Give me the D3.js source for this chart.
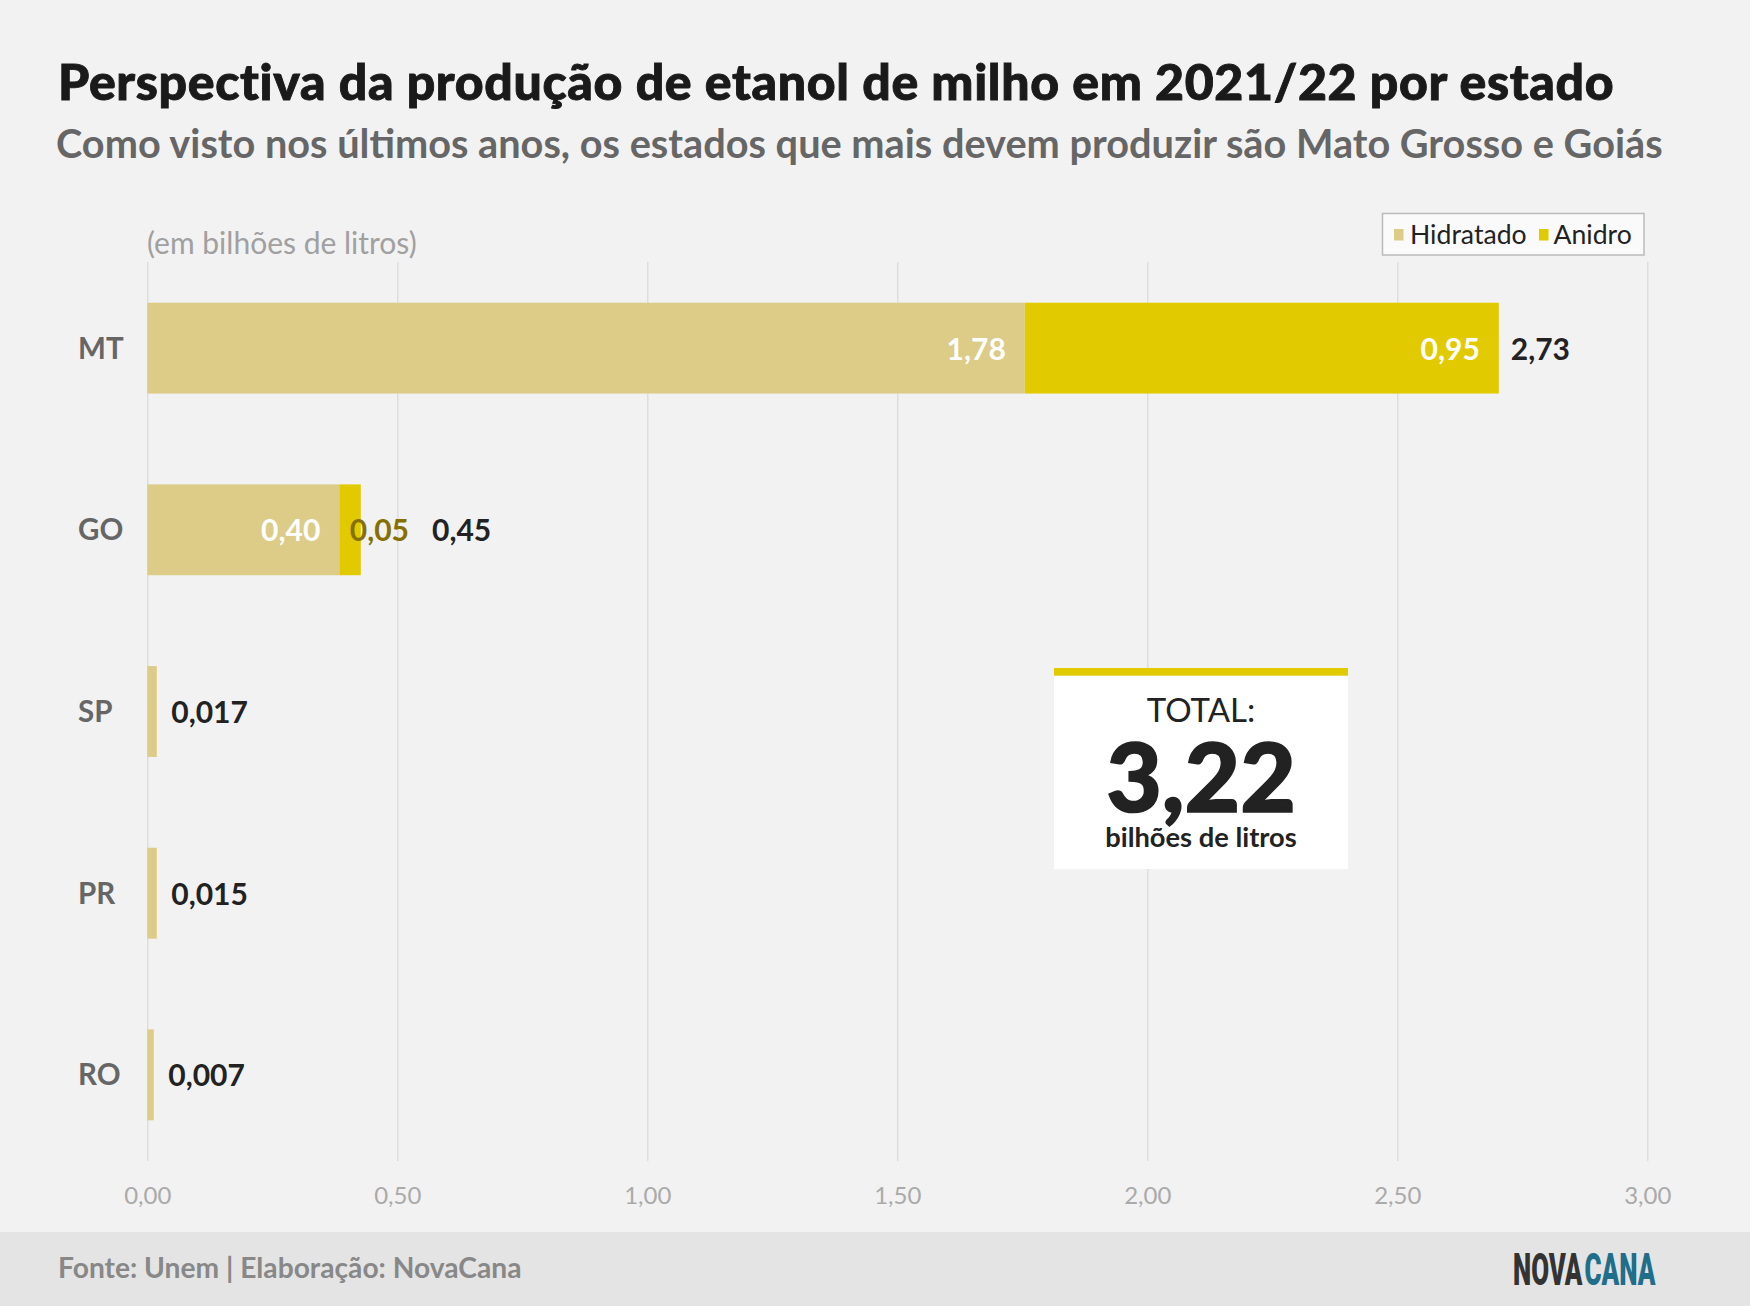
<!DOCTYPE html>
<html>
<head>
<meta charset="utf-8">
<script src="https://cdn.jsdelivr.net/npm/d3@7"></script>
<style>
  html, body { margin: 0; padding: 0; background: #f2f2f2; }
  svg { display: block; font-family: Lato, "Open Sans", sans-serif; }
</style>
</head>
<body>
<svg id="chart" width="1750" height="1306"></svg>
<script>
// ---- data ----
const states = ["MT", "GO", "SP", "PR", "RO"];
const hidratado = [1.755, 0.384, 0.019, 0.019, 0.013];   // bar lengths (bilhões de litros)
const anidro = [0.948, 0.043, 0, 0, 0];
const hidratadoLabels = [1.78, 0.40, null, null, null];
const anidroLabels = [0.95, 0.05, null, null, null];
const totalLabels = [2.73, 0.45, 0.017, 0.015, 0.007];
const xTicks = [0, 0.5, 1, 1.5, 2, 2.5, 3];
const seriesNames = ["Hidratado", "Anidro"];
const seriesColors = ["#dccc88", "#e2ca00"];

const title = "Perspectiva da produção de etanol de milho em 2021/22 por estado";
const subtitle = "Como visto nos últimos anos, os estados que mais devem produzir são Mato Grosso e Goiás";
const unitLabel = "(em bilhões de litros)";
const source = "Fonte: Unem | Elaboração: NovaCana";

// ---- setup ----
const locale = d3.formatLocale({decimal: ",", thousands: ".", grouping: [3], currency: ["R$", ""]});
const f2 = locale.format(".2f");
const f3 = locale.format(".3f");
const fmt = v => (v < 0.1 ? f3(v) : f2(v));

const svg = d3.select("#chart");
const W = 1750, H = 1306;

svg.append("rect").attr("width", W).attr("height", H).attr("fill", "#f2f2f2");
svg.append("rect").attr("x", 0).attr("y", 1232).attr("width", W).attr("height", H - 1232).attr("fill", "#e4e4e4");

const x = d3.scaleLinear().domain([0, 3]).range([147.3, 1647.3]);
const y = d3.scaleBand().domain(states).range([262, 1161]).paddingInner(0.5).paddingOuter(0.224);

// ---- titles ----
svg.append("text").attr("x", 58).attr("y", 100)
  .attr("font-size", 50).attr("font-weight", 900).attr("fill", "#1a1a1a")
  .attr("stroke", "#1a1a1a").attr("stroke-width", 0.9).attr("letter-spacing", 0.65)
  .text(title);
svg.append("text").attr("x", 56).attr("y", 158)
  .attr("font-size", 39.7).attr("font-weight", 700).attr("fill", "#666")
  .text(subtitle);
svg.append("text").attr("x", 147).attr("y", 254)
  .attr("font-size", 30).attr("font-weight", 400).attr("fill", "#a0a0a0")
  .text(unitLabel);

// ---- grid / axis ----
const axis = d3.axisBottom(x).tickValues(xTicks).tickFormat(f2)
  .tickSize(-(1161 - 262)).tickPadding(26);
const gAxis = svg.append("g").attr("transform", "translate(0,1161)").call(axis);
gAxis.select(".domain").remove();
gAxis.selectAll(".tick line").attr("stroke", "#d9d9d9").attr("stroke-width", 1.2);
gAxis.selectAll(".tick text").attr("fill", "#aaa").attr("font-size", 24)
  .attr("font-family", "Lato, sans-serif");

// ---- bars ----
const rows = states.map((s, i) => ({
  s, h: hidratado[i], a: anidro[i],
  hl: hidratadoLabels[i], al: anidroLabels[i], t: totalLabels[i]
}));

const g = svg.append("g");
g.selectAll("rect.h").data(rows).join("rect")
  .attr("x", x(0)).attr("y", d => y(d.s))
  .attr("width", d => x(d.h) - x(0)).attr("height", y.bandwidth())
  .attr("fill", seriesColors[0]);
g.selectAll("rect.a").data(rows.filter(d => d.a > 0)).join("rect")
  .attr("x", d => x(d.h)).attr("y", d => y(d.s))
  .attr("width", d => x(d.h + d.a) - x(d.h)).attr("height", y.bandwidth())
  .attr("fill", seriesColors[1]);

// row labels
svg.selectAll("text.state").data(states).join("text")
  .attr("x", 78).attr("y", d => y(d) + y.bandwidth() / 2 + 10.5)
  .attr("font-size", 29.5).attr("font-weight", 700).attr("fill", "#666")
  .text(d => d);

// value labels
const vfs = 30;
rows.forEach(d => {
  const cy = y(d.s) + y.bandwidth() / 2 + 11.5;
  let endX = x(d.h + d.a) + (d.a > 0 ? 12 : 14.5);
  if (d.hl != null) {
    svg.append("text").attr("x", x(d.h) - 19).attr("y", cy)
      .attr("text-anchor", "end").attr("font-size", vfs).attr("font-weight", 700)
      .attr("fill", "#fff").text(f2(d.hl));
  }
  if (d.al != null) {
    const barW = x(d.h + d.a) - x(d.h);
    if (barW > 100) {
      svg.append("text").attr("x", x(d.h + d.a) - 19).attr("y", cy)
        .attr("text-anchor", "end").attr("font-size", vfs).attr("font-weight", 700)
        .attr("fill", "#fff").text(f2(d.al));
    } else {
      const t = svg.append("text").attr("x", x(d.h) + 10.5).attr("y", cy)
        .attr("font-size", vfs).attr("font-weight", 700)
        .attr("fill", "#857000").text(f2(d.al));
      endX = x(d.h) + 10.5 + t.node().getComputedTextLength() + 23;
    }
  }
  svg.append("text").attr("x", endX).attr("y", cy)
    .attr("font-size", vfs).attr("font-weight", 700).attr("fill", "#222")
    .text(fmt(d.t));
});

// ---- legend ----
const lg = svg.append("g");
lg.append("rect").attr("x", 1382.5).attr("y", 213.5).attr("width", 261.5).attr("height", 41.5)
  .attr("fill", "#fafafa").attr("stroke", "#bbb").attr("stroke-width", 1.5);
const legItems = [{x: 1394, tx: 1410}, {x: 1539, tx: 1553.5}];
seriesNames.forEach((n, i) => {
  lg.append("rect").attr("x", legItems[i].x).attr("y", 229).attr("width", 9.5).attr("height", 11.5)
    .attr("fill", seriesColors[i]);
  lg.append("text").attr("x", legItems[i].tx).attr("y", 243.5)
    .attr("font-size", 26.6).attr("fill", "#222").text(n);
});

// ---- total box ----
const grand = d3.sum(totalLabels);
const tb = svg.append("g");
tb.append("rect").attr("x", 1054).attr("y", 668).attr("width", 294).attr("height", 201).attr("fill", "#fff");
tb.append("rect").attr("x", 1054).attr("y", 668).attr("width", 294).attr("height", 7.7).attr("fill", seriesColors[1]);
tb.append("text").attr("x", 1201).attr("y", 722).attr("text-anchor", "middle")
  .attr("font-size", 33).attr("font-weight", 400).attr("fill", "#222").text("TOTAL:");
tb.append("text").attr("x", 1201).attr("y", 812).attr("text-anchor", "middle")
  .attr("font-size", 96).attr("font-weight", 900).attr("fill", "#222")
  .attr("stroke", "#222").attr("stroke-width", 1.6).text(f2(grand));
tb.append("text").attr("x", 1201).attr("y", 847).attr("text-anchor", "middle")
  .attr("font-size", 27.3).attr("font-weight", 700).attr("fill", "#222").text("bilhões de litros");

// ---- footer ----
svg.append("text").attr("x", 58).attr("y", 1278)
  .attr("font-size", 28.2).attr("font-weight", 700).attr("fill", "#888").text(source);
const logoParts = [
  {t: "NOVA", x: 1513, w: 69.5, c: "#333"},
  {t: "CANA", x: 1584.5, w: 71, c: "#1f6e8a"}
];
logoParts.forEach(p => {
  const t = svg.append("text").attr("x", 0).attr("y", 0)
    .attr("font-family", "Roboto, sans-serif").attr("font-size", 44.5).attr("font-weight", 900)
    .attr("fill", p.c).text(p.t);
  const nat = t.node().getComputedTextLength();
  t.attr("transform", `translate(${p.x},1285) scale(${p.w / nat},1)`);
});
</script>
</body>
</html>
